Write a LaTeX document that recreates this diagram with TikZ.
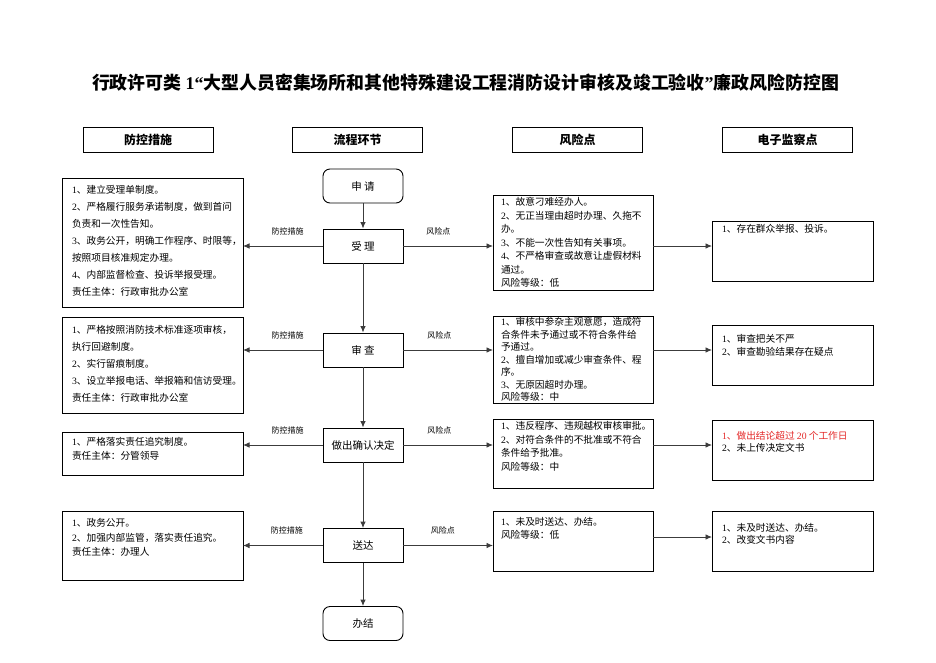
\documentclass[tikz,border=0pt]{standalone}
\usepackage{fontspec}
\setmainfont{Noto Sans CJK SC}
\newfontfamily\latf{Liberation Serif}
\usetikzlibrary{arrows.meta}
\definecolor{warnred}{RGB}{228,40,40}
\definecolor{linegray}{RGB}{60,60,60}
\newcommand\dg[1]{{\latf #1}}
\newcommand\tbox[4]{\parbox[c][#2][t]{#1}{\rule{0pt}{#3}#4}}
\newcommand\fs[1]{\fontsize{9.7}{#1}\selectfont}
\tikzset{
  txtbox/.style={draw=black, line width=0.9pt, anchor=north west, inner xsep=#1, inner ysep=0pt, outer sep=0pt},
  txtbox/.default=10pt,
  headbox/.style={draw=black, line width=0.9pt, minimum width=130pt, minimum height=25pt, inner sep=0pt, font=\fontsize{12}{14}\bfseries\selectfont},
  procbox/.style={draw=black, line width=0.9pt, minimum width=80pt, minimum height=34pt, inner sep=0pt, font=\fontsize{10.5}{12}\selectfont},
  endbox/.style={procbox, rounded corners=7pt},
  conn/.style={draw=linegray, line width=0.9pt, -{Latex[length=6.5pt,width=5.5pt]}},
  lbl/.style={font=\fontsize{8}{9}\selectfont, inner sep=0pt, yshift=15pt}
}
\begin{document}
\begin{tikzpicture}[x=1pt,y=-1pt]
\useasboundingbox (0,0) rectangle (936,662);
\fill[white] (0,0) rectangle (936,662);

% title
\node[font=\fontsize{17.9}{20}\bfseries\selectfont, inner sep=0pt] (title) at (465.5,83)
  {行政许可类 \dg{\bfseries 1“}大型人员密集场所和其他特殊建设工程消防设计审核及竣工验收\dg{\bfseries ”}廉政风险防控图};

% headers
\node[headbox] (h1) at (148,139.5) {防控措施};
\node[headbox] (h2) at (357.5,139.5) {流程环节};
\node[headbox] (h3) at (577.5,139.5) {风险点};
\node[headbox] (h4) at (787.5,139.5) {电子监察点};

% process nodes
\node[endbox]  (p0) at (363,186) {申\ 请};
\node[procbox] (p1) at (363,246) {受\ 理};
\node[procbox] (p2) at (363,350) {审\ 查};
\node[procbox] (p3) at (363,445) {做出确认决定};
\node[procbox] (p4) at (363,545.5) {送达};
\node[endbox]  (p5) at (363,623.5) {办结};

% left boxes (measures)
\node[txtbox=10pt, font=\fs{17}] (f1) at (62,178) {\tbox{161pt}{129pt}{15.6pt}{%
\dg{1}、建立受理单制度。\\
\dg{2}、严格履行服务承诺制度，做到首问\\
负责和一次性告知。\\
\dg{3}、政务公开，明确工作程序、时限等，\\
按照项目核准规定办理。\\
\dg{4}、内部监督检查、投诉举报受理。\\
责任主体：行政审批办公室}};

\node[txtbox=10pt, font=\fs{17}] (f2) at (62,317) {\tbox{161pt}{96pt}{16.6pt}{%
\dg{1}、严格按照消防技术标准逐项审核，\\
执行回避制度。\\
\dg{2}、实行留痕制度。\\
\dg{3}、设立举报电话、举报箱和信访受理。\\
责任主体：行政审批办公室}};

\node[txtbox=10pt, font=\fs{14}] (f3) at (62,432) {\tbox{161pt}{43pt}{13.6pt}{%
\dg{1}、严格落实责任追究制度。\\
责任主体：分管领导}};

\node[txtbox=10pt, font=\fs{14.5}] (f4) at (62,511) {\tbox{161pt}{69pt}{15.6pt}{%
\dg{1}、政务公开。\\
\dg{2}、加强内部监管，落实责任追究。\\
责任主体：办理人}};

% risk boxes
\node[txtbox=8pt, font=\fs{13.5}] (r1) at (493,195) {\tbox{144pt}{95pt}{10.6pt}{%
\dg{1}、故意刁难经办人。\\
\dg{2}、无正当理由超时办理、久拖不\\
办。\\
\dg{3}、不能一次性告知有关事项。\\
\dg{4}、不严格审查或故意让虚假材料\\
通过。\\
风险等级：低}};

\node[txtbox=8pt, font=\fs{12.5}] (r2) at (493,316) {\tbox{144pt}{87pt}{9.6pt}{%
\dg{1}、审核中参杂主观意愿，造成符\\
合条件未予通过或不符合条件给\\
予通过。\\
\dg{2}、擅自增加或减少审查条件、程\\
序。\\
\dg{3}、无原因超时办理。\\
风险等级：中}};

\node[txtbox=8pt, font=\fs{13.5}] (r3) at (493,419) {\tbox{144pt}{69pt}{10.6pt}{%
\dg{1}、违反程序、违规越权审核审批。\\
\dg{2}、对符合条件的不批准或不符合\\
条件给予批准。\\
风险等级：中}};

\node[txtbox=8pt, font=\fs{13}] (r4) at (493,511) {\tbox{144pt}{60pt}{14.6pt}{%
\dg{1}、未及时送达、办结。\\
风险等级：低}};

% monitor boxes
\node[txtbox=10pt, font=\fs{13}] (m1) at (712,221) {\tbox{141pt}{60pt}{11.6pt}{%
\dg{1}、存在群众举报、投诉。}};

\node[txtbox=10pt, font=\fs{13}] (m2) at (712,325) {\tbox{141pt}{60pt}{17.6pt}{%
\dg{1}、审查把关不严\\
\dg{2}、审查勘验结果存在疑点}};

\node[txtbox=10pt, font=\fs{12}] (m3) at (712,420) {\tbox{141pt}{60pt}{19.6pt}{%
{\color{warnred}\dg{1}、做出结论超过 \dg{20} 个工作日}\\
\dg{2}、未上传决定文书}};

\node[txtbox=10pt, font=\fs{12}] (m4) at (712,511) {\tbox{141pt}{60pt}{20.6pt}{%
\dg{1}、未及时送达、办结。\\
\dg{2}、改变文书内容}};

% vertical flow
\draw[conn] (p0) -- (p1);
\draw[conn] (p1) -- (p2);
\draw[conn] (p2) -- (p3);
\draw[conn] (p3) -- (p4);
\draw[conn] (p4) -- (p5);

% row connectors
\draw[conn] (p1.west) -- node[lbl, pos=0.44] {防控措施} (p1.west -| f1.east);
\draw[conn] (p1.east) -- node[lbl, pos=0.39] {风险点} (p1.east -| r1.west);
\draw[conn] (p1.east -| r1.east) -- (p1.east -| m1.west);

\draw[conn] (p2.west) -- node[lbl, pos=0.44] {防控措施} (p2.west -| f2.east);
\draw[conn] (p2.east) -- node[lbl, pos=0.4] {风险点} (p2.east -| r2.west);
\draw[conn] (p2.east -| r2.east) -- (p2.east -| m2.west);

\draw[conn] (p3.west) -- node[lbl, pos=0.44] {防控措施} (p3.west -| f3.east);
\draw[conn] (p3.east) -- node[lbl, pos=0.4] {风险点} (p3.east -| r3.west);
\draw[conn] (p3.east -| r3.east) -- (p3.east -| m3.west);

\draw[conn] (p4.west) -- node[lbl, pos=0.45] {防控措施} (p4.west -| f4.east);
\draw[conn] (p4.east) -- node[lbl, pos=0.44] {风险点} (p4.east -| r4.west);
\draw[conn] ([yshift=4pt]r4.east) -- ([yshift=4pt]r4.east -| m4.west);
\end{tikzpicture}
\end{document}
